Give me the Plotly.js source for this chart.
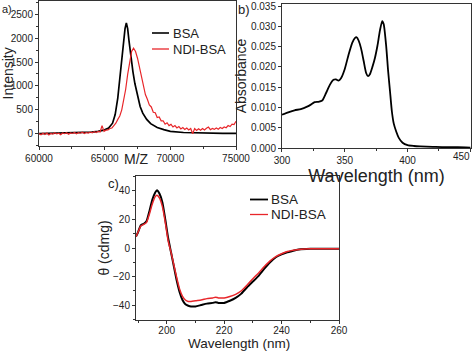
<!DOCTYPE html>
<html><head><meta charset="utf-8">
<script src="https://cdn.plot.ly/plotly-3.0.1.min.js"></script>
<style>html,body{margin:0;padding:0;background:#fff;}#chart{width:474px;height:351px;}</style>
</head><body><div id="chart"></div>
<script>
// Panel a: MALDI mass spectra
const mzBSA = [60000,61000,62000,63000,64000,64500,65000,65300,65600,65800,66000,66150,66300,66450,66550,66650,66750,66850,67000,67150,67300,67500,67700,67900,68200,68500,69000,69500,70000,71000,72000,73000,74000,75000];
const intBSA = [0,5,10,18,35,50,80,120,220,400,750,1150,1550,1950,2200,2320,2200,1950,1600,1300,1050,780,570,430,300,210,130,85,50,25,15,10,8,8];
const mzNDI = [60000,60150,60300,60450,60600,60750,60900,61050,61200,61350,61500,61650,61800,61950,62100,62250,62400,62550,62700,62850,63000,63150,63300,63450,63600,63750,63900,64050,64200,64350,64500,64650,64800,64950,65100,65250,65400,65550,65700,65850,66000,66150,66300,66450,66600,66750,66900,67050,67200,67350,67500,67650,67800,67950,68100,68250,68400,68550,68700,68850,69000,69150,69300,69450,69600,69750,69900,70050,70200,70350,70500,70650,70800,70950,71100,71250,71400,71550,71700,71850,72000,72150,72300,72450,72600,72750,72900,73050,73200,73350,73500,73650,73800,73950,74100,74250,74400,74550,74700,74850,75000];
const intNDI = [5,-20,10,-15,15,-25,5,-10,20,-5,10,-20,15,0,20,-10,15,5,25,0,20,10,30,5,25,15,35,20,45,25,50,35,170,50,75,80,110,120,170,220,300,370,500,680,930,1240,1530,1720,1790,1720,1580,1380,1150,1000,820,720,600,560,450,440,340,350,270,270,200,230,170,195,140,170,120,150,100,130,90,120,80,110,0,110,70,105,75,110,80,115,140,85,110,90,120,95,130,110,140,125,170,150,200,190,260];

// Panel b: UV-vis absorbance
const wlAbs = [300,305,310,315,320,323,326,329,332,335,338,341,343,345,347,350,353,356,358,359.5,361,363,365,367,368.5,370,372,374,376,378,379.8,381,383,384.5,386,387.5,389,391,393,396,400,405,410,420,430,440,450];
const absVal = [0.0082,0.0088,0.0093,0.0096,0.0102,0.0107,0.0113,0.0114,0.0117,0.0135,0.0155,0.0168,0.0169,0.0166,0.0172,0.0195,0.0230,0.0260,0.0271,0.0273,0.0265,0.0245,0.0215,0.0185,0.0177,0.0182,0.0200,0.0222,0.0252,0.0290,0.0313,0.0305,0.0250,0.0190,0.0140,0.0090,0.0060,0.0040,0.0025,0.0013,0.0007,0.0005,0.0004,0.0003,0.0002,0.0002,0.0001];
const wlTicks = [300, 350, 400, 450];

// Panel c: CD spectra
const wlCD = [189.3,190,191,192,193,194,195,196,196.6,197.5,198.5,199.5,200.5,201.5,202.5,203.5,204.5,205.5,206.5,207.5,208.5,210,212,214,216,217,218,220,222,224,226,228,230,232,234,236,238,240,242,244,246,250,255,260];
const cdBSA = [8,11,16,17,19,26,34,39,40.5,38,32,20,7,-3,-13,-23,-31,-36.5,-39.5,-40.5,-41,-41,-40,-39,-38.5,-38,-38.5,-38.5,-37,-35,-32,-27.5,-23.5,-19.5,-14.5,-10,-6.5,-4.5,-3,-2,-1,-0.5,-0.5,-0.5];
const cdNDI = [8,11,15.5,16.5,18,24,31,36,37,35,29,18,5,-3,-12,-21,-29,-34,-36.5,-37.5,-37.5,-37,-36.5,-35.5,-35,-34.5,-35,-35,-34,-32.5,-30,-26,-21.5,-17.5,-13,-9,-6,-4,-2.5,-1.5,-1,-0.5,-0.5,-0.5];

const seriesNames = ['BSA', 'NDI-BSA'];

const RED = '#e8262a';
const FONT = 'Liberation Sans, Arial, sans-serif';
const TXT = '#222';
const W = 474, H = 351;
const px = v => v / W;
const py = v => 1 - v / H;

const traces = [
  {x: mzBSA, y: intBSA, type:'scatter', mode:'lines', name:seriesNames[0], line:{color:'#000', width:1.7}, xaxis:'x', yaxis:'y', showlegend:false},
  {x: mzNDI, y: intNDI, type:'scatter', mode:'lines', name:seriesNames[1], line:{color:RED, width:1.2}, xaxis:'x', yaxis:'y', showlegend:false},
  {x: wlAbs, y: absVal, type:'scatter', mode:'lines', name:'Absorbance', line:{color:'#000', width:1.8, shape:'spline', smoothing:0.6}, xaxis:'x2', yaxis:'y2', showlegend:false},
  {x: wlCD, y: cdBSA, type:'scatter', mode:'lines', name:seriesNames[0], line:{color:'#000', width:2, shape:'spline', smoothing:0.5}, xaxis:'x3', yaxis:'y3', showlegend:false},
  {x: wlCD, y: cdNDI, type:'scatter', mode:'lines', name:seriesNames[1], line:{color:RED, width:1.5, shape:'spline', smoothing:0.5}, xaxis:'x3', yaxis:'y3', showlegend:false}
];

function ax(extra){
  return Object.assign({
    showgrid:false, zeroline:false, showline:true, mirror:true, linecolor:'#333', linewidth:1,
    ticks:'outside', ticklen:3, tickcolor:'#333', tickwidth:1,
    tickfont:{family:FONT, size:10, color:TXT},
    minor:{ticks:'outside', ticklen:2, tickcolor:'#333'}
  }, extra);
}

// legend (line sample + label) for panels a and c
function legendItems(x0, x1, tx, ys, fs, widths){
  const shapes = [], anns = [];
  const colors = ['#000', RED];
  ys.forEach((yy, i) => {
    shapes.push({type:'line', xref:'paper', yref:'paper', x0:px(x0), x1:px(x1), y0:py(yy), y1:py(yy), line:{color:colors[i], width:widths[i]}});
    anns.push({text:seriesNames[i], x:px(tx), y:py(yy), xref:'paper', yref:'paper', xanchor:'left', yanchor:'middle', showarrow:false, font:{family:FONT, size:fs, color:TXT}});
  });
  return {shapes, anns};
}
const legA = legendItems(152, 169, 171, [33, 49], 13, [1.6, 1.3]);
const legC = legendItems(250, 268, 269, [199.5, 214.5], 13.5, [1.8, 1.3]);

const layout = {
  width:W, height:H, margin:{l:0,r:0,t:0,b:0}, paper_bgcolor:'#fff', plot_bgcolor:'#fff',
  font:{family:FONT, color:TXT}, showlegend:false,
  xaxis: ax({domain:[0.0823,0.4979], range:[60000,75000], tickvals:[60000,65000,70000,75000], tickformat:'d', anchor:'y', minor:{ticks:'outside', ticklen:2, tickcolor:'#333', dtick:2500}}),
  yaxis: ax({domain:[0.5849,0.9972], range:[-251,2778], dtick:500, tick0:0, tickformat:'d', anchor:'x',
    title:{text:'Intensity', font:{family:FONT, size:14, color:TXT}, standoff:2}, minor:{ticks:'outside', ticklen:2, tickcolor:'#333', dtick:250}}),
  xaxis2: ax({domain:[0.5949,0.9937], range:[300,450.5], tickvals:wlTicks, ticktext:['300','350','400',''], anchor:'y2',
    title:{text:'Wavelength (nm)', font:{family:FONT, size:18, color:TXT}, standoff:0}, minor:{ticks:'outside', ticklen:2, tickcolor:'#333', dtick:25, tick0:300}}),
  yaxis2: ax({domain:[0.5783,0.9886], range:[0,0.0355], dtick:0.005, tick0:0, tickformat:'.3f', anchor:'x2',
    title:{text:'Absorbance', font:{family:FONT, size:14, color:TXT}, standoff:1}, minor:{ticks:''}}),
  xaxis3: ax({domain:[0.2869,0.7152], range:[189.3,260], tickvals:[200,220,240,260], anchor:'y3', ticklabelstandoff:-2,
    minor:{ticks:'outside', ticklen:2, tickcolor:'#333', dtick:10, tick0:0}}),
  yaxis3: ax({domain:[0.0883,0.4986], range:[-50.5,50.5], tickvals:[-40,-20,0,20,40], anchor:'x3',
    title:{text:'θ (cdmg)', font:{family:FONT, size:14, color:TXT}, standoff:0}, minor:{ticks:'outside', ticklen:2, tickcolor:'#333', dtick:10, tick0:0}}),
  shapes: legA.shapes.concat(legC.shapes),
  annotations: [
    {text:'a)', x:0, y:py(9), xref:'paper', yref:'paper', xanchor:'left', yanchor:'middle', showarrow:false, font:{family:FONT, size:11, color:TXT}},
    {text:'b)', x:px(236), y:py(10), xref:'paper', yref:'paper', xanchor:'left', yanchor:'middle', showarrow:false, font:{family:FONT, size:13, color:TXT}},
    {text:'c)', x:px(106), y:py(183), xref:'paper', yref:'paper', xanchor:'left', yanchor:'middle', showarrow:false, font:{family:FONT, size:13, color:TXT}},
    {text:'M/Z', x:px(136), y:py(159), xref:'paper', yref:'paper', xanchor:'center', yanchor:'middle', showarrow:false, font:{family:FONT, size:14, color:TXT}},
    {text:'Wavelength (nm)', x:px(239), y:py(343.5), xref:'paper', yref:'paper', xanchor:'center', yanchor:'middle', showarrow:false, font:{family:FONT, size:13.5, color:TXT}},
    {text:String(wlTicks[3]), x:px(472), y:py(149), xref:'paper', yref:'paper', xanchor:'right', yanchor:'top', showarrow:false, font:{family:FONT, size:10, color:TXT}}
  ].concat(legA.anns, legC.anns)
};

Plotly.newPlot('chart', traces, layout, {displayModeBar:false, staticPlot:true});
</script>
</body></html>
